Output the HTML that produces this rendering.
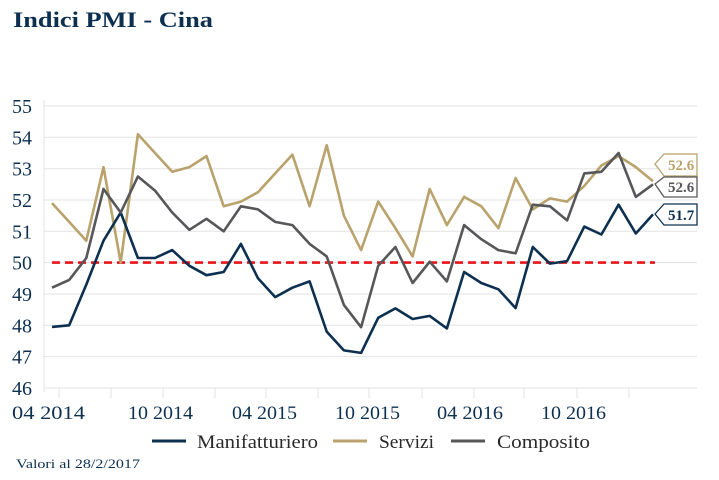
<!DOCTYPE html>
<html><head><meta charset="utf-8">
<style>
html,body{margin:0;padding:0;background:#fff;}
svg{display:block;font-family:"Liberation Serif",serif;}
</style></head>
<body>
<svg id="c" width="719" height="480" viewBox="0 0 719 480" xmlns="http://www.w3.org/2000/svg">
<text x="13" y="27" font-size="22" font-weight="bold" fill="#0d3050" textLength="200" lengthAdjust="spacingAndGlyphs">Indici PMI - Cina</text>
<g id="grid"></g>
<g id="series"></g>
<g font-size="19" fill="#0d3050">
<text x="12" y="419" textLength="73" lengthAdjust="spacingAndGlyphs">04 2014</text>
<text x="128" y="419" textLength="65" lengthAdjust="spacingAndGlyphs">10 2014</text>
<text x="232" y="419" textLength="65" lengthAdjust="spacingAndGlyphs">04 2015</text>
<text x="335" y="419" textLength="65" lengthAdjust="spacingAndGlyphs">10 2015</text>
<text x="437" y="419" textLength="66" lengthAdjust="spacingAndGlyphs">04 2016</text>
<text x="541" y="419" textLength="65" lengthAdjust="spacingAndGlyphs">10 2016</text>
</g>
<g font-size="19" fill="#2a2a2a">
<line x1="152" y1="441" x2="186" y2="441" stroke="#0d3050" stroke-width="3"/>
<text x="197" y="448" textLength="121" lengthAdjust="spacingAndGlyphs">Manifatturiero</text>
<line x1="333" y1="441" x2="367" y2="441" stroke="#b9a26c" stroke-width="3"/>
<text x="379" y="448" textLength="55" lengthAdjust="spacingAndGlyphs">Servizi</text>
<line x1="451" y1="441" x2="485" y2="441" stroke="#57575a" stroke-width="3"/>
<text x="497" y="448" textLength="93" lengthAdjust="spacingAndGlyphs">Composito</text>
</g>
<text x="16" y="468" font-size="13" fill="#0d3050" textLength="124" lengthAdjust="spacingAndGlyphs">Valori al 28/2/2017</text>
<g font-size="15" font-weight="bold">
<path d="M655,164 L664,154 L697,154 L697,176 L664,176 Z" fill="#fff" stroke="#b9a26c" stroke-width="1.3"/>
<text x="668" y="170" fill="#b9a26c">52.6</text>
<path d="M655,184 L664,177 L697,177 L697,197 L664,197 Z" fill="#fff" stroke="#57575a" stroke-width="1.3"/>
<text x="668" y="192" fill="#57575a">52.6</text>
<path d="M655,214 L664,204 L697,204 L697,225 L664,225 Z" fill="#fff" stroke="#0d3050" stroke-width="1.3"/>
<text x="668" y="220" fill="#0d3050">51.7</text>
</g>
</svg>
<script>
(function(){
var ns="http://www.w3.org/2000/svg";
function Y(v){return 106+(55-v)*31.33;}
function X(i){return 52+17.17*i;}
var g=document.getElementById('grid'),s=document.getElementById('series');
var h='';
for(var v=46;v<=55;v++){
 var y=Y(v).toFixed(1);
 h+='<line x1="44" y1="'+y+'" x2="697" y2="'+y+'" stroke="#e3e3e3" stroke-width="1"/>';
 h+='<text x="12" y="'+(Y(v)+7).toFixed(1)+'" font-size="20" fill="#0d3050">'+v+'</text>';
}
h+='<line x1="44" y1="100" x2="44" y2="392" stroke="#e3e3e3" stroke-width="1"/>';
var tk=[59,111,163,215,266,318,369,422,474,524,577,629];
tk.forEach(function(x){h+='<line x1="'+x+'" y1="388" x2="'+x+'" y2="398" stroke="#e3e3e3" stroke-width="1"/>';});
g.innerHTML=h;
var mfg=[47.95,48.0,49.3,50.7,51.6,50.15,50.15,50.4,49.9,49.6,49.7,50.6,49.5,48.9,49.2,49.4,47.8,47.2,47.12,48.24,48.54,48.2,48.3,47.9,49.7,49.35,49.15,48.55,50.5,49.97,50.05,51.15,50.9,51.85,50.93,51.54];
var cmp=[49.2,49.45,50.15,52.35,51.6,52.75,52.3,51.6,51.05,51.4,51.0,51.8,51.7,51.3,51.2,50.6,50.2,48.65,47.94,49.9,50.5,49.35,50.03,49.4,51.2,50.75,50.4,50.3,51.85,51.8,51.35,52.85,52.9,53.5,52.1,52.5];
var srv=[51.9,51.3,50.7,53.05,50.0,54.1,53.5,52.9,53.05,53.4,51.8,51.95,52.25,52.85,53.45,51.8,53.75,51.5,50.4,51.95,51.1,50.2,52.35,51.2,52.1,51.8,51.1,52.7,51.7,52.05,51.95,52.45,53.1,53.4,53.05,52.6];
function pl(d,c){return '<polyline fill="none" stroke="'+c+'" stroke-width="2.6" stroke-linejoin="round" points="'+d.map(function(v,i){return X(i).toFixed(1)+','+Y(v).toFixed(1);}).join(' ')+'"/>';}
var o='<line x1="52" y1="'+Y(50).toFixed(1)+'" x2="655" y2="'+Y(50).toFixed(1)+'" stroke="#e8141a" stroke-width="2.6" stroke-dasharray="8,5"/>';
o+=pl(srv,'#b9a26c')+pl(mfg,'#0d3050')+pl(cmp,'#57575a');
s.innerHTML=o;
})();
</script>
</body></html>
